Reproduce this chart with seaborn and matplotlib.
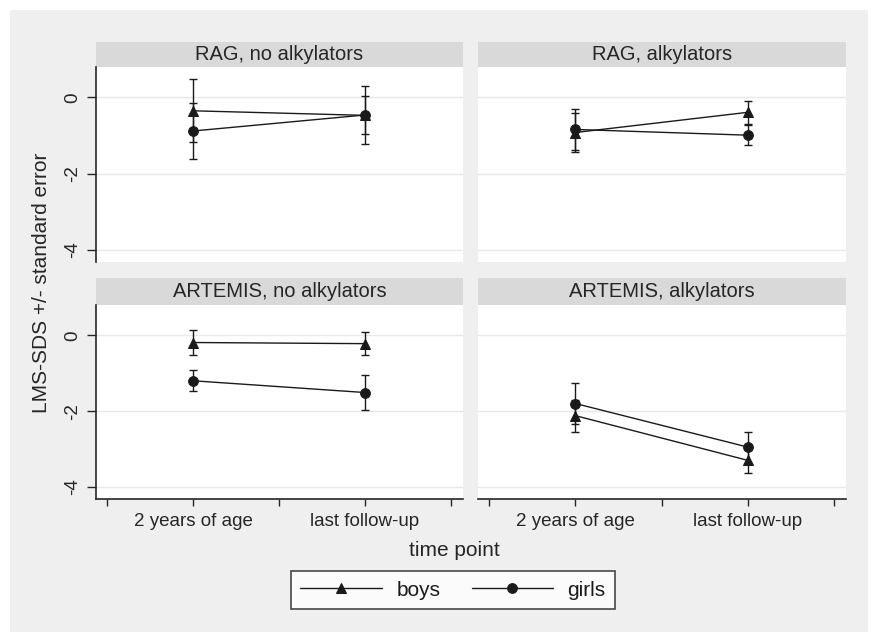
import pandas as pd
import seaborn as sns
import matplotlib.pyplot as plt
from matplotlib.patches import Rectangle

panels = ["RAG, no alkylators", "RAG, alkylators", "ARTEMIS, no alkylators", "ARTEMIS, alkylators"]
time_points = ["2 years of age", "last follow-up"]
groups = ["boys", "girls"]

# mean LMS-SDS and standard error, one value per panel
boys_age2 = [-0.35, -0.92, -0.19, -2.12]
boys_last = [-0.47, -0.39, -0.22, -3.30]
boys_se_age2 = [0.83, 0.50, 0.34, 0.42]
boys_se_last = [0.50, 0.31, 0.31, 0.34]
girls_age2 = [-0.88, -0.84, -1.20, -1.80]
girls_last = [-0.46, -0.99, -1.51, -2.95]
girls_se_age2 = [0.74, 0.55, 0.28, 0.54]
girls_se_last = [0.76, 0.26, 0.46, 0.41]

y_ticks = [0, -2, -4]

W, H = 874, 632


def box(x0, y0, x1, y1):
    return [x0 / W, 1 - y1 / H, (x1 - x0) / W, (y1 - y0) / H]


def build_df():
    rows = []
    for i, p in enumerate(panels):
        rows.append((p, 1, "boys", boys_age2[i], boys_se_age2[i]))
        rows.append((p, 2, "boys", boys_last[i], boys_se_last[i]))
        rows.append((p, 1, "girls", girls_age2[i], girls_se_age2[i]))
        rows.append((p, 2, "girls", girls_last[i], girls_se_last[i]))
    return pd.DataFrame(rows, columns=["panel", "time", "sex", "value", "se"])


def main():
    sns.set_style("white")
    plt.rcParams["font.family"] = ["Liberation Sans", "DejaVu Sans"]
    plt.rcParams["axes.unicode_minus"] = False

    df = build_df()
    fig = plt.figure(figsize=(W / 100, H / 100), dpi=100, facecolor="white")
    fig.add_artist(Rectangle((10 / W, 0), 858 / W, 1 - 10 / H, transform=fig.transFigure,
                             facecolor="#efefef", edgecolor="none", zorder=-10))

    plot_boxes = [(96, 67, 463, 262), (478, 67, 846, 262), (96, 305, 463, 499), (478, 305, 846, 499)]
    strip_boxes = [(96, 42, 463, 67), (478, 42, 846, 67), (96, 278, 463, 305), (478, 278, 846, 305)]
    markers = {"boys": "^", "girls": "o"}

    for i, p in enumerate(panels):
        sax = fig.add_axes(box(*strip_boxes[i]))
        sax.set_facecolor("#d9d9d9")
        sax.set_xticks([])
        sax.set_yticks([])
        for s in sax.spines.values():
            s.set_visible(False)
        sax.text(0.5, 0.5, p, ha="center", va="center", fontsize=14.5, color="#262626",
                 transform=sax.transAxes)

        ax = fig.add_axes(box(*plot_boxes[i]))
        ax.set_facecolor("white")
        sub = df[df["panel"] == p]
        for sex in groups:
            d = sub[sub["sex"] == sex]
            ax.errorbar(d["time"], d["value"], yerr=d["se"], fmt="none", ecolor="#1a1a1a",
                        elinewidth=1.0, capsize=3, capthick=1.0, zorder=3)
        sns.lineplot(data=sub, x="time", y="value", style="sex", markers=markers, dashes=False,
                     color="#1a1a1a", linewidth=1.0, markersize=7, markeredgecolor="#1a1a1a",
                     legend=(i == 0), ax=ax, zorder=4)
        if i == 0:
            handles, labels = ax.get_legend_handles_labels()
            ax.get_legend().remove()

        ax.set_xlim(0.435, 2.57)
        ax.set_ylim(-4.32, 0.80)
        ax.set_yticks(y_ticks)
        ax.grid(axis="y", color="#e8e8e8", linewidth=1.0)
        ax.set_xlabel("")
        ax.set_ylabel("")
        for s in ax.spines.values():
            s.set_visible(False)

        if i % 2 == 0:
            ax.spines["left"].set_visible(True)
            ax.spines["left"].set_color("#262626")
            ax.spines["left"].set_linewidth(1.2)
            ax.tick_params(axis="y", left=True, length=6.5, width=1.0, color="#262626",
                           labelsize=13.5, labelcolor="#262626", pad=4, labelrotation=90)
            for lab in ax.get_yticklabels():
                lab.set_va("center")
        else:
            ax.tick_params(axis="y", left=False, labelleft=False)

        if i >= 2:
            ax.spines["bottom"].set_visible(True)
            ax.spines["bottom"].set_color("#262626")
            ax.spines["bottom"].set_linewidth(1.2)
            ax.set_xticks([1, 2])
            ax.set_xticklabels(time_points)
            ax.set_xticks([0.5, 1.5, 2.5], minor=True)
            ax.tick_params(axis="x", which="both", bottom=True, length=5, width=1.0, color="#262626",
                           labelsize=13.5, labelcolor="#262626", pad=5)
        else:
            ax.set_xticks([])

    fig.text(42 / W, 1 - 283 / H, "LMS-SDS +/- standard error", rotation=90, ha="center", va="center",
             fontsize=15, color="#262626")
    fig.text(454 / W, 1 - 550 / H, "time point", ha="center", va="center", fontsize=15, color="#262626")

    labels = [l for l in labels]
    leg = fig.legend(handles, labels, loc="center", bbox_to_anchor=(453 / W, 1 - 590 / H), ncol=2,
                     frameon=True, fancybox=False, fontsize=15, handlelength=3.9, handletextpad=0.7,
                     columnspacing=1.5, borderpad=0.45, labelcolor="#1a1a1a")
    leg.get_frame().set_edgecolor("#1a1a1a")
    leg.get_frame().set_linewidth(1.2)
    leg.get_frame().set_facecolor("white")

    fig.savefig("out.png", dpi=100, facecolor=fig.get_facecolor())


if __name__ == "__main__":
    main()
